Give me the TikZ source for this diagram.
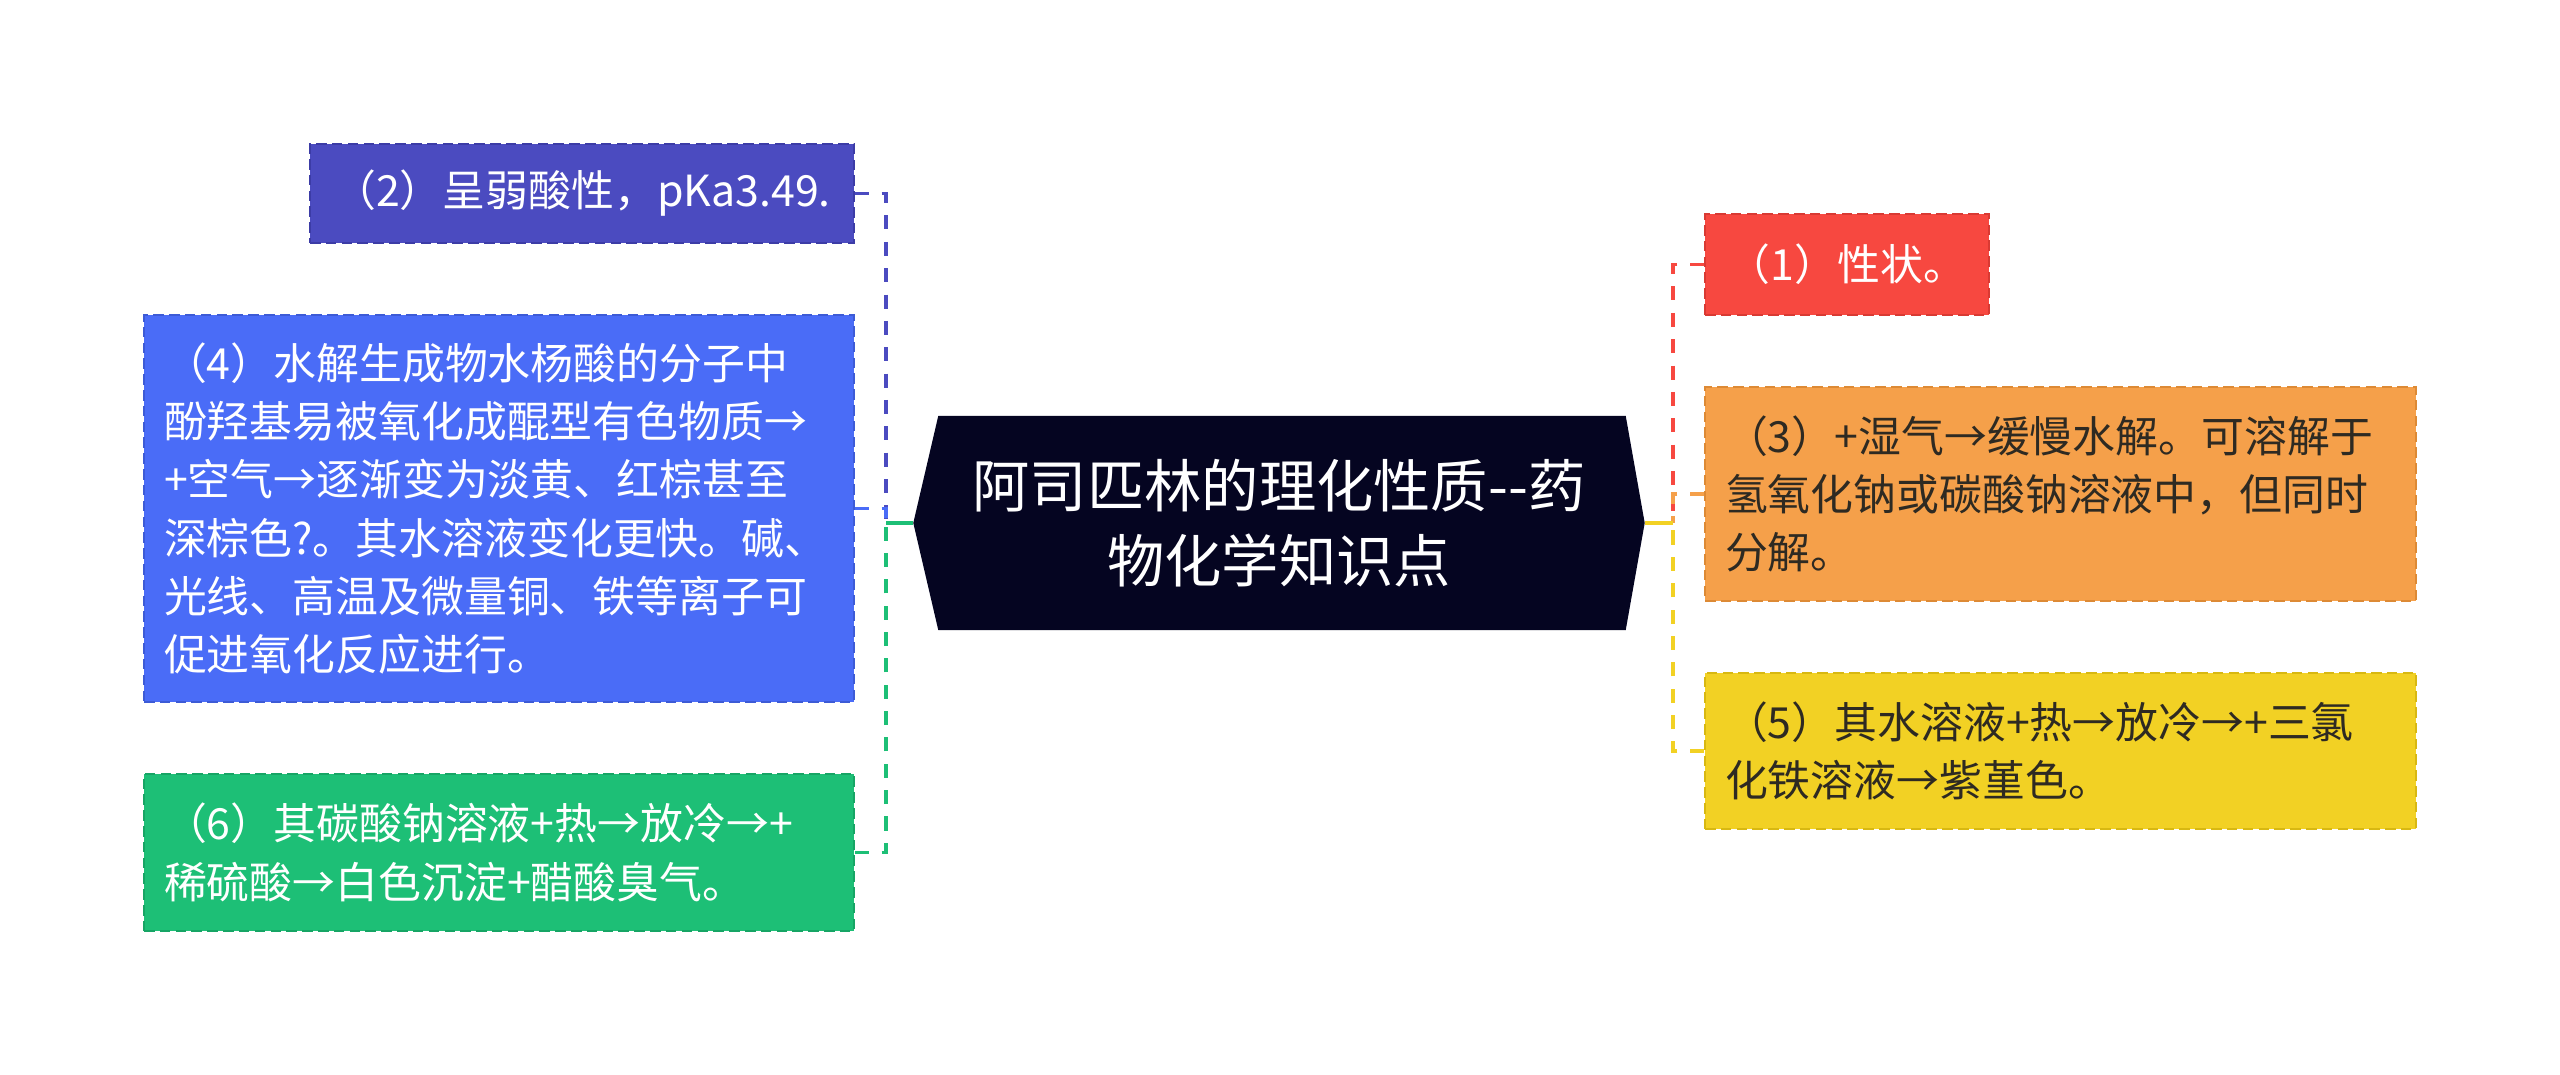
\documentclass[tikz,border=0pt]{standalone}
\usepackage{fontspec}
\newfontfamily\cjk{Noto Sans CJK SC}
\usetikzlibrary{calc, backgrounds}
\definecolor{purplefill}{HTML}{4B4BC0}
\definecolor{purpleedge}{HTML}{3C3CA6}
\definecolor{bluefill}{HTML}{4A6CF7}
\definecolor{blueedge}{HTML}{3D5BD6}
\definecolor{greenfill}{HTML}{1DBF76}
\definecolor{greenedge}{HTML}{17A565}
\definecolor{rootfill}{HTML}{050521}
\definecolor{redfill}{HTML}{F74840}
\definecolor{rededge}{HTML}{D93A33}
\definecolor{orangefill}{HTML}{F5A04A}
\definecolor{orangeedge}{HTML}{DD8A35}
\definecolor{yellowfill}{HTML}{F2D124}
\definecolor{yellowedge}{HTML}{D8B812}
\definecolor{darktext}{HTML}{2E2A22}

\begin{document}
\begin{tikzpicture}[
  leaf/.style={rectangle, line width=0.7pt, dash pattern=on 3pt off 1.5pt, inner xsep=0.2cm, inner ysep=0pt, text=white, font=\cjk\fontsize{12.2}{16.6}\selectfont},
  multi/.style={align=left, text width=#1},
  link/.style={line width=1.1pt, dash pattern=on 4pt off 3.5pt},
  trunk/.style={line width=1.1pt},
]
\useasboundingbox (0,0) rectangle (25.6,10.75);
% central topic, six-sided plate behind the text
\node[text=white, align=center, minimum width=7.30cm, minimum height=2.13cm, font=\cjk\fontsize{16.3}{21.3}\selectfont] (root) at (12.79, 5.52) {阿司匹林的理化性质-{}-药\\物化学知识点};
\begin{scope}[on background layer]
\fill[rootfill] (root.west) -- ($(root.north west)+(0.25,0)$) -- ($(root.north east)+(-0.19,0)$) -- (root.east) -- ($(root.south east)+(-0.19,0)$) -- ($(root.south west)+(0.25,0)$) -- cycle;
\end{scope}
% left branch
\node[leaf, fill=purplefill, draw=purpleedge, minimum width=5.44cm, minimum height=0.99cm] (p2) at (5.82, 8.815) {（2）呈弱酸性，pKa3.49.};
\node[leaf, multi=6.70cm, fill=bluefill, draw=blueedge, minimum width=7.10cm, minimum height=3.87cm] (p4) at (4.99, 5.665) {（4）水解生成物水杨酸的分子中\\酚羟基易被氧化成醌型有色物质→\\+空气→逐渐变为淡黄、红棕甚至\\深棕色?。其水溶液变化更快。碱、\\光线、高温及微量铜、铁等离子可\\促进氧化反应进行。};
\node[leaf, multi=6.70cm, fill=greenfill, draw=greenedge, minimum width=7.10cm, minimum height=1.57cm] (p6) at (4.99, 2.225) {（6）其碳酸钠溶液+热→放冷→+\\稀硫酸→白色沉淀+醋酸臭气。};
% right branch
\node[leaf, fill=redfill, draw=rededge, minimum width=2.84cm, minimum height=1.01cm] (p1) at (18.47, 8.105) {（1）性状。};
\node[leaf, multi=6.71cm, fill=orangefill, draw=orangeedge, text=darktext, minimum width=7.11cm, minimum height=2.14cm] (p3) at (20.605, 5.81) {（3）+湿气→缓慢水解。可溶解于\\氢氧化钠或碳酸钠溶液中，但同时\\分解。};
\node[leaf, multi=6.71cm, fill=yellowfill, draw=yellowedge, text=darktext, minimum width=7.11cm, minimum height=1.56cm] (p5) at (20.605, 3.24) {（5）其水溶液+热→放冷→+三氯\\化铁溶液→紫堇色。};
% connectors meet at one junction on each side
\coordinate (jl) at (8.86, 5.52);
\coordinate (jr) at (16.73, 5.52);
\draw[link, purplefill] (p2.east) -| (jl);
\draw[link, bluefill] (p4.east) -| (jl);
\draw[link, greenfill] (p6.east) -| (jl);
\draw[trunk, greenfill] (jl) -- (root.west);
\draw[link, redfill] (p1.west) -| (jr);
\draw[link, orangefill] (p3.west) -| (jr);
\draw[link, yellowfill] (p5.west) -| (jr);
\draw[trunk, yellowfill] (root.east) -- (jr);
\end{tikzpicture}
\end{document}
